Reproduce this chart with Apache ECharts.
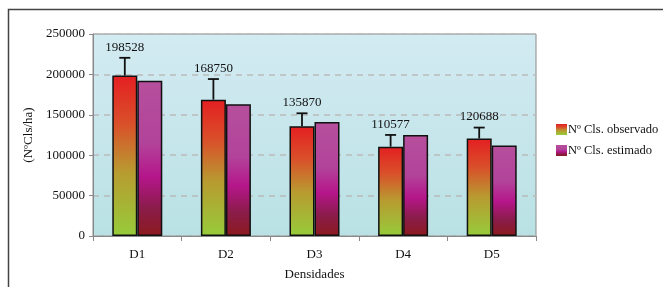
<!DOCTYPE html>
<html>
<head>
<meta charset="utf-8">
<script src="https://cdn.jsdelivr.net/npm/echarts@6/dist/echarts.min.js"></script>
<style>
html, body { margin: 0; padding: 0; background: #fff; }
#chart { width: 663px; height: 287px; }
</style>
</head>
<body>
<div id="chart"></div>
<script>
const categories = ['D1', 'D2', 'D3', 'D4', 'D5'];
const observado = [198528, 168750, 135870, 110577, 120688];
const estimado = [192000, 163000, 141000, 125000, 112000];
const errores = [22000, 25500, 16000, 14500, 13500];
const yTicks = [0, 50000, 100000, 150000, 200000, 250000];

const chart = echarts.init(document.getElementById('chart'));
const serif = '"Liberation Serif", "DejaVu Serif", serif';

const gradObs = new echarts.graphic.LinearGradient(0, 0, 0, 1, [
	{ offset: 0, color: '#e41f22' },
	{ offset: 0.3, color: '#d9502a' },
	{ offset: 0.6, color: '#b89b30' },
	{ offset: 1, color: '#96cc3a' }
]);
const gradEst = new echarts.graphic.LinearGradient(0, 0, 0, 1, [
	{ offset: 0, color: '#b64f9c' },
	{ offset: 0.4, color: '#b2439a' },
	{ offset: 0.62, color: '#b5168a' },
	{ offset: 0.82, color: '#8a1c4a' },
	{ offset: 1, color: '#8c1a1e' }
]);

// error bar with value label over the observed bar
const errData = categories.map((c, i) => [i, observado[i], observado[i] + errores[i]]);

const option = {
	animation: false,
	textStyle: { fontFamily: serif },
	graphic: [{
		type: 'rect',
		shape: { x: 8.5, y: 9.5, width: 700, height: 300 },
		style: { fill: 'none', stroke: '#444', lineWidth: 1.5 },
		z: -10
	}],
	grid: {
		left: 93, top: 34, width: 443, height: 202,
		show: true,
		backgroundColor: new echarts.graphic.LinearGradient(0, 0, 0, 1, [
			{ offset: 0, color: '#d3ebf2' },
			{ offset: 1, color: '#b9e1e4' }
		]),
		borderColor: '#8a8a8a',
		borderWidth: 1
	},
	legend: {
		orient: 'vertical',
		left: 551, top: 118,
		itemWidth: 11, itemHeight: 11, itemGap: 8,
		icon: 'rect',
		itemStyle: { borderWidth: 0 },
		textStyle: { fontFamily: serif, fontSize: 12.5, color: '#111', padding: [0, 0, 0, -4] },
		data: ['Nº Cls. observado', 'Nº Cls. estimado']
	},
	xAxis: {
		type: 'category',
		data: categories,
		name: 'Densidades',
		nameLocation: 'middle',
		nameGap: 32,
		nameTextStyle: { fontFamily: serif, fontSize: 13, color: '#111' },
		axisLine: { lineStyle: { color: '#888' } },
		axisTick: { show: true, lineStyle: { color: '#888' } },
		axisLabel: { fontFamily: serif, fontSize: 13, color: '#111', margin: 12 }
	},
	yAxis: {
		type: 'value',
		min: 0, max: 250000, interval: 50000,
		name: '(NºCls/ha)',
		nameLocation: 'middle',
		nameGap: 56,
		nameTextStyle: { fontFamily: serif, fontSize: 13, color: '#111' },
		axisLine: { show: true, lineStyle: { color: '#888' } },
		axisTick: { show: true, length: 4, lineStyle: { color: '#888' } },
		axisLabel: {
			fontFamily: serif, fontSize: 13, color: '#111',
			formatter: v => yTicks.includes(v) ? String(v) : ''
		},
		splitLine: { lineStyle: { color: '#bbbbbb', type: [6, 5], width: 1.5 } }
	},
	series: [
		{
			name: 'Nº Cls. observado',
			type: 'bar',
			data: observado,
			barWidth: 25,
			barGap: '0%',
			itemStyle: { color: gradObs, borderColor: '#111', borderWidth: 1.5 }
		},
		{
			name: 'Nº Cls. estimado',
			type: 'bar',
			data: estimado,
			barWidth: 25,
			itemStyle: { color: gradEst, borderColor: '#111', borderWidth: 1.5 }
		},
		{
			type: 'custom',
			data: errData,
			z: 10,
			encode: { x: 0, y: [1, 2] },
			renderItem: function (params, api) {
				const i = api.value(0);
				const base = api.coord([i, api.value(1)]);
				const top = api.coord([i, api.value(2)]);
				const x = base[0] - 12.5;
				return {
					type: 'group',
					children: [
						{ type: 'line', shape: { x1: x, y1: base[1], x2: x, y2: top[1] }, style: { stroke: '#111', lineWidth: 1.8 } },
						{ type: 'line', shape: { x1: x - 5.5, y1: top[1], x2: x + 5.5, y2: top[1] }, style: { stroke: '#111', lineWidth: 1.8 } },
						{ type: 'text', x: x, y: top[1] - 4, style: {
							text: String(observado[i]), fill: '#111', fontFamily: serif, fontSize: 13,
							align: 'center', verticalAlign: 'bottom'
						} }
					]
				};
			}
		}
	]
};

chart.setOption(option);
</script>
</body>
</html>
